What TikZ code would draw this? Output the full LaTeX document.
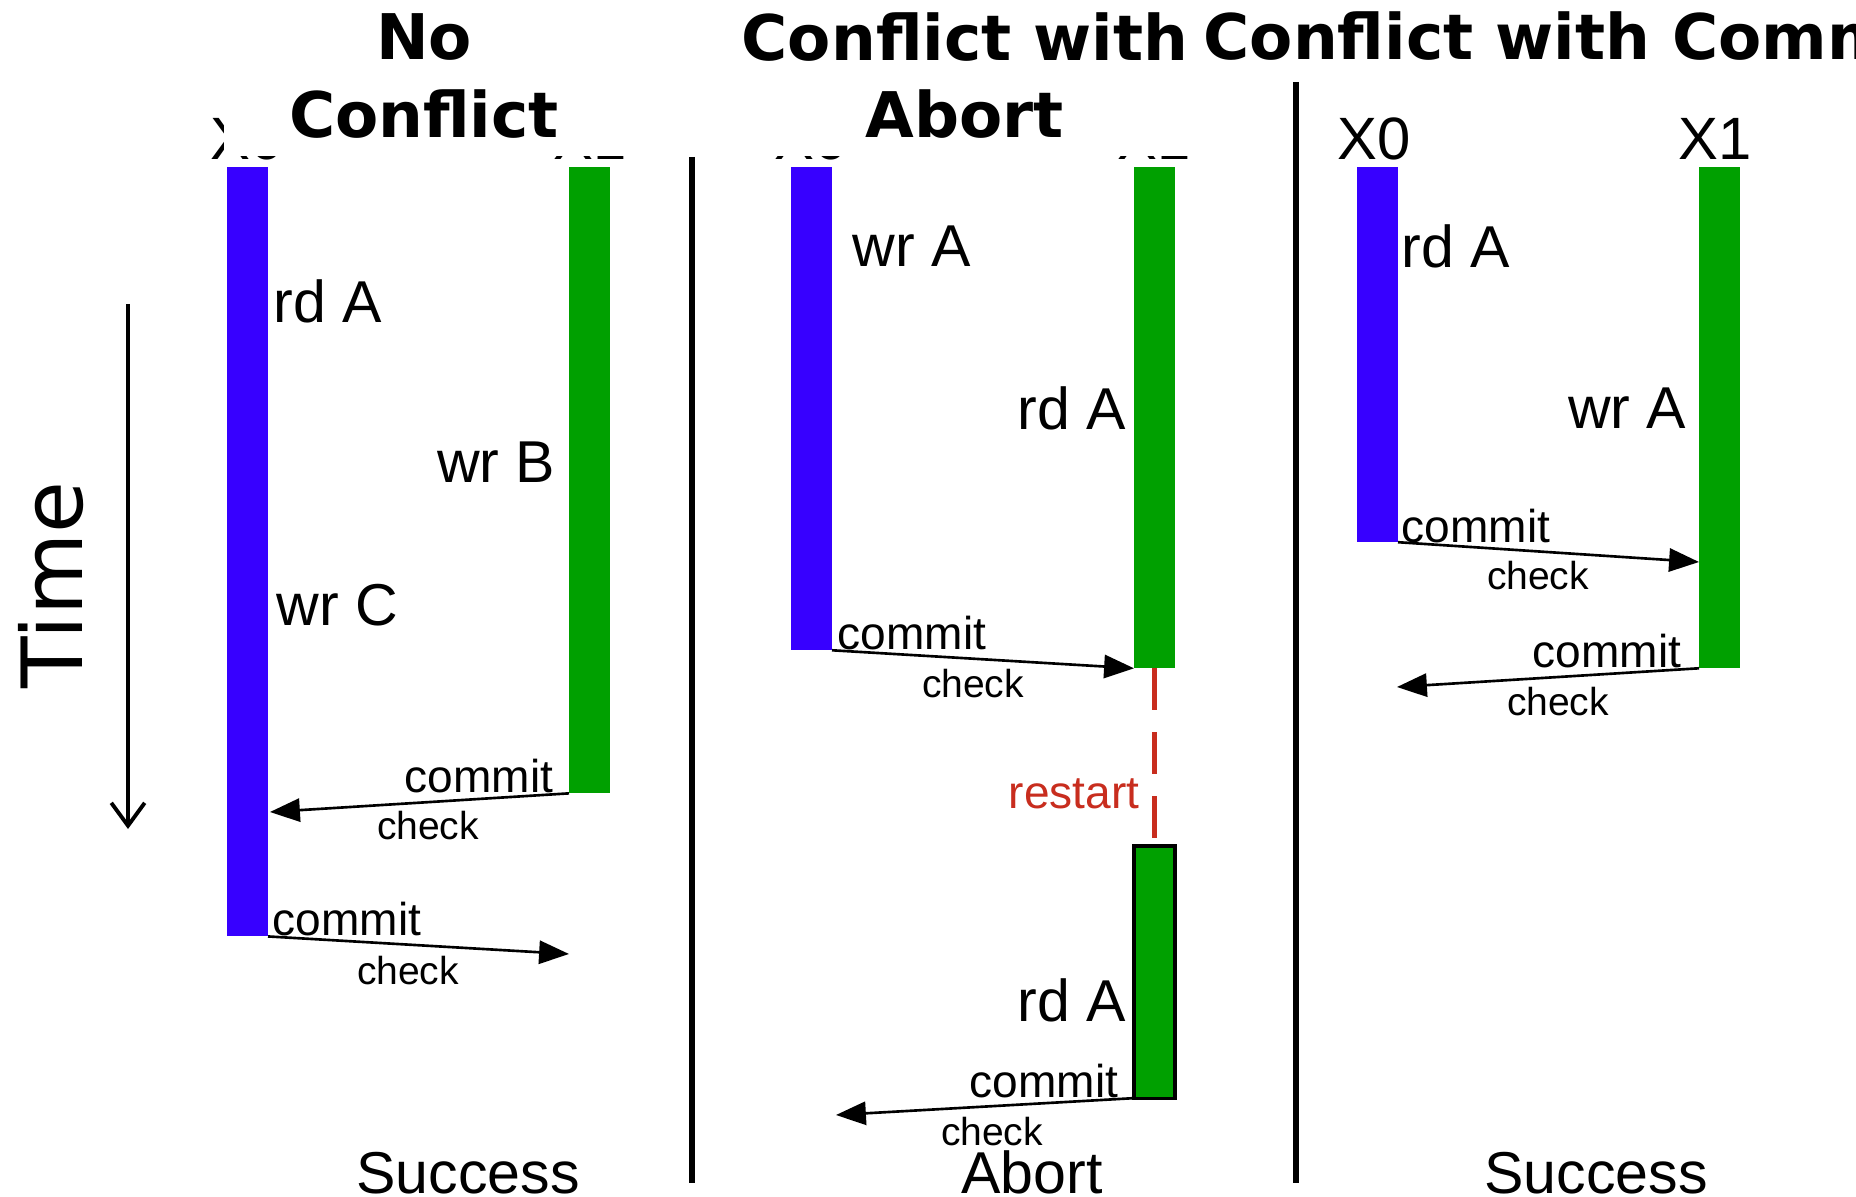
\documentclass[tikz,border=0pt]{standalone}
\usepackage{fontspec}
\setmainfont{Liberation Sans}
\newfontfamily\headfont{DejaVu Sans}
\usetikzlibrary{arrows.meta}
\definecolor{txblue}{RGB}{55,0,255}
\definecolor{txgreen}{RGB}{0,160,0}
\definecolor{restartred}{RGB}{200,45,30}

\begin{document}
\begin{tikzpicture}[x=0.01cm,y=-0.01cm,
  bar/.style={inner sep=0pt, outer sep=0pt, anchor=north west, minimum width=0.41cm},
  x0bar/.style={bar, fill=txblue},
  x1bar/.style={bar, fill=txgreen},
  op/.style={inner sep=0pt, font=\fontsize{16.8}{20}\selectfont},
  commitlbl/.style={inner sep=0pt, font=\fontsize{13.1}{15}\selectfont},
  checklbl/.style={inner sep=0pt, font=\fontsize{11.1}{13}\selectfont},
  outcome/.style={inner sep=0pt, font=\fontsize{16.8}{20}\selectfont},
  txlabel/.style={inner sep=0pt, font=\fontsize{17}{20}\selectfont},
  title/.style={fill=white, inner sep=0pt, align=center,
    font=\headfont\bfseries\fontsize{17.9}{21.9}\selectfont},
  msg/.style={line width=0.75pt, -{Triangle[length=8.5pt,width=6.6pt]}},
  separator/.style={line width=1.5pt},
]
\path[use as bounding box, fill=white] (0,0) rectangle (1856,1197);

% transaction names above each time line
\node[txlabel] (l1a) at (247,139) {X0};
\node[txlabel] (l1b) at (590,139) {X1};
\node[txlabel] (l2a) at (811,139) {X0};
\node[txlabel] (l2b) at (1154,139) {X1};
\node[txlabel] (l3a) at (1374,139) {X0};
\node[txlabel] (l3b) at (1715,139) {X1};

% panel headings
\node[title, minimum width=4cm, minimum height=1.6cm] (t1) at (424,76) {No\\Conflict};
\node[title, minimum width=4.8cm, minimum height=1.6cm] (t2) at (965,76) {Conflict with\\Abort};
\node[title, anchor=west, minimum height=0.72cm] (t3) at (1203,36) {Conflict with Commit};

% separators between the panels
\coordinate (s1top) at (692,157);
\coordinate (s1bot) at (692,1183);
\coordinate (s2top) at (1296,82);
\coordinate (s2bot) at (1296,1183);
\draw[separator] (s1top) -- (s1bot);
\draw[separator] (s2top) -- (s2bot);

% time axis
\node[inner sep=0pt, rotate=90, font=\headfont\fontsize{24}{28}\selectfont] (time) at (51,585) {Time};
\coordinate (tstart) at (128,304);
\coordinate (tend) at (128,829);
\draw[line width=1.1pt, -{Straight Barb[length=6.5pt,width=9.5pt]}] (tstart) -- (tend);

% ---------- panel 1: no conflict ----------
\node[x0bar, minimum height=7.69cm] (p1a) at (227,167) {};
\node[x1bar, minimum height=6.26cm] (p1b) at (569,167) {};
\node[op, anchor=west] (p1rd) at (273,301) {rd A};
\node[op, anchor=east] (p1wrb) at (556,462) {wr B};
\node[op, anchor=west] (p1wrc) at (276,605) {wr C};
\coordinate (p1e1) at (270,812);
\draw[msg] (p1b.south west) -- (p1e1);
\node[commitlbl, anchor=east] (p1c1) at (554,776) {commit};
\node[checklbl] (p1k1) at (428,826) {check};
\coordinate (p1e2) at (569,954);
\draw[msg] (p1a.south east) -- (p1e2);
\node[commitlbl, anchor=west] (p1c2) at (272,919) {commit};
\node[checklbl] (p1k2) at (408,971) {check};
\node[outcome] (p1out) at (468,1173) {Success};

% ---------- panel 2: conflict with abort ----------
\node[x0bar, minimum height=4.83cm] (p2a) at (791,167) {};
\node[x1bar, minimum height=5.01cm] (p2b) at (1134,167) {};
\node[x1bar, draw=black, line width=0.9pt, minimum height=2.52cm] (p2r) at (1134,846) {};
\node[op, anchor=west] (p2wr) at (852,246) {wr A};
\node[op, anchor=east] (p2rd) at (1127,408) {rd A};
\draw[msg] (p2a.south east) -- (p2b.south west);
\node[commitlbl, anchor=west] (p2c1) at (837,633) {commit};
\node[checklbl] (p2k1) at (973,684) {check};
\draw[restartred, line width=1.4pt, dash pattern=on 11.9pt off 6.3pt] (p2b.south) -- (p2r.north);
\node[commitlbl, anchor=east, text=restartred] (p2rs) at (1140,794) {restart};
\node[op, anchor=east] (p2rd2) at (1127,1000) {rd A};
\coordinate (p2e2) at (836,1115);
\draw[msg] (p2r.south west) -- (p2e2);
\node[commitlbl, anchor=east] (p2c2) at (1119,1081) {commit};
\node[checklbl] (p2k2) at (992,1132) {check};
\node[outcome] (p2out) at (1032,1172) {Abort};

% ---------- panel 3: conflict with commit ----------
\node[x0bar, minimum height=3.75cm] (p3a) at (1357,167) {};
\node[x1bar, minimum height=5.01cm] (p3b) at (1699,167) {};
\node[op, anchor=west] (p3rd) at (1401,246) {rd A};
\node[op, anchor=east] (p3wr) at (1687,408) {wr A};
\coordinate (p3e1) at (1699,562);
\draw[msg] (p3a.south east) -- (p3e1);
\node[commitlbl, anchor=west] (p3c1) at (1401,526) {commit};
\node[checklbl] (p3k1) at (1538,576) {check};
\coordinate (p3e2) at (1397,687);
\draw[msg] (p3b.south west) -- (p3e2);
\node[commitlbl, anchor=east] (p3c2) at (1682,651) {commit};
\node[checklbl] (p3k2) at (1558,702) {check};
\node[outcome] (p3out) at (1596,1173) {Success};
\end{tikzpicture}
\end{document}
